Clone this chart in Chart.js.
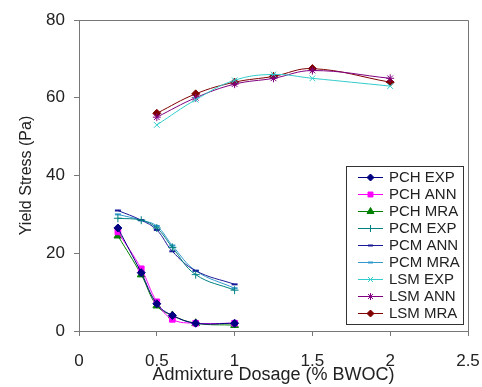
<!DOCTYPE html>
<html>
<head>
<meta charset="utf-8">
<script src="https://cdn.jsdelivr.net/npm/chart.js@4/dist/chart.umd.min.js"></script>
<style>
  html, body { margin: 0; padding: 0; background: #fff; }
  #wrap { width: 482px; height: 387px; }
</style>
</head>
<body>
<div id="wrap"><canvas id="chart" width="482" height="387"></canvas></div>
<script>
// Yield stress vs admixture dosage, three admixtures, experimental vs ANN vs MRA.
const pcDosage = [0.25, 0.4, 0.5, 0.6, 0.75, 1.0];
const lsmDosage = [0.5, 0.75, 1.0, 1.25, 1.5, 2.0];

const pchExp = [26.5, 15, 7, 4, 2, 2];
const pchAnn = [25.5, 16, 7.5, 3, 2, 2];
const pchMra = [24.5, 14.5, 6.5, 4, 2, 1.5];
const pcmExp = [29, 28.5, 26.5, 21.5, 14.5, 10.5];
const pcmAnn = [31, 28.5, 26, 20.5, 15.5, 12];
const pcmMra = [30, 28.5, 27, 22, 15.5, 11];
const lsmExp = [53, 59.5, 64.5, 66, 65, 63];
const lsmAnn = [55, 60, 63.5, 65, 67, 65];
const lsmMra = [56, 61, 64, 65.5, 67.5, 64];

const xTicks = [0, 0.5, 1, 1.5, 2, 2.5];
const yTicks = [0, 20, 40, 60, 80];

function pts(xs, ys) {
  return xs.map((x, i) => ({ x, y: ys[i] }));
}

function series(label, xs, ys, color, style, radius) {
  return {
    label,
    data: pts(xs, ys),
    borderColor: color,
    backgroundColor: color,
    pointStyle: style,
    pointRadius: radius,
    pointBorderWidth: style === 'line' ? 2 : 1,
    borderWidth: 1,
    tension: 0.4,
    fill: false,
  };
}

const datasets = [
  series('PCH EXP', pcDosage, pchExp, '#000080', 'rectRot', 4),
  series('PCH ANN', pcDosage, pchAnn, '#ff00ff', 'rect', 4),
  series('PCH MRA', pcDosage, pchMra, '#008000', 'triangle', 4.5),
  series('PCM EXP', pcDosage, pcmExp, '#008080', 'cross', 4),
  series('PCM ANN', pcDosage, pcmAnn, '#1a1a99', 'line', 3),
  series('PCM MRA', pcDosage, pcmMra, '#3399cc', 'line', 3),
  series('LSM EXP', lsmDosage, lsmExp, '#33cccc', 'crossRot', 4),
  series('LSM ANN', lsmDosage, lsmAnn, '#800080', 'star', 4),
  series('LSM MRA', lsmDosage, lsmMra, '#800000', 'rectRot', 4),
];

// Legend box inside the plot, drawn by hand (Excel-style)
const insideLegend = {
  id: 'insideLegend',
  afterDraw(chart) {
    const ctx = chart.ctx;
    const area = chart.chartArea;
    // frame around the plot area
    ctx.save();
    ctx.strokeStyle = '#777';
    ctx.lineWidth = 1;
    ctx.beginPath();
    ctx.moveTo(area.left, area.top + 0.5);
    ctx.lineTo(area.right + 0.5, area.top + 0.5);
    ctx.lineTo(area.right + 0.5, area.bottom);
    ctx.stroke();

    const bx = 346, by = 166, bw = 117, bh = 158;
    ctx.fillStyle = '#fff';
    ctx.fillRect(bx, by, bw, bh);
    ctx.strokeStyle = '#333';
    ctx.strokeRect(bx + 0.5, by + 0.5, bw, bh);

    ctx.font = '15px "Liberation Sans", Arial, sans-serif';
    ctx.textBaseline = 'middle';
    chart.data.datasets.forEach((ds, i) => {
      const y = by + 11 + i * 17;
      ctx.strokeStyle = ds.borderColor;
      ctx.lineWidth = 1;
      ctx.beginPath();
      ctx.moveTo(358, y + 0.5);
      ctx.lineTo(383, y + 0.5);
      ctx.stroke();
      ctx.fillStyle = ds.backgroundColor;
      ctx.lineWidth = ds.pointBorderWidth;
      Chart.helpers.drawPoint(ctx, {
        pointStyle: ds.pointStyle,
        radius: ds.pointRadius - 0.5,
        rotation: 0,
        borderWidth: ds.pointBorderWidth,
      }, 370.5, y + 0.5);
      ctx.fillStyle = '#222';
      ctx.fillText(ds.label, 389, y + 1);
    });
    ctx.restore();
  },
};

const tickFont = { family: '"Liberation Sans", Arial, sans-serif', size: 17 };
const xTitleFont = { family: '"Liberation Sans", Arial, sans-serif', size: 18 };
const yTitleFont = { family: '"Liberation Sans", Arial, sans-serif', size: 16 };

new Chart(document.getElementById('chart'), {
  type: 'line',
  data: { datasets },
  options: {
    responsive: false,
    animation: false,
    layout: { padding: { left: 17, right: 14, top: 20, bottom: 0 } },
    plugins: { legend: { display: false }, tooltip: { enabled: false } },
    scales: {
      x: {
        type: 'linear',
        min: 0,
        max: 2.5,
        afterBuildTicks: (s) => { s.ticks = xTicks.map((v) => ({ value: v })); },
        afterFit: (s) => {
          s.height = 56;
          s.paddingLeft = 0;
          s.paddingRight = 0;
        },
        ticks: {
          font: tickFont,
          color: '#222',
          padding: 15,
          maxRotation: 0,
          callback: (v) => String(v),
        },
        grid: { drawOnChartArea: false, drawTicks: true, tickLength: 5, color: '#777' },
        border: { display: true, color: '#777' },
        title: {
          display: true,
          text: 'Admixture Dosage (% BWOC)',
          font: xTitleFont,
          color: '#222',
          padding: { top: 0, bottom: 1 },
        },
      },
      y: {
        min: 0,
        max: 80,
        afterBuildTicks: (s) => { s.ticks = yTicks.map((v) => ({ value: v })); },
        afterFit: (s) => { s.width = 62; },
        ticks: { font: tickFont, color: '#222', padding: 9 },
        grid: { drawOnChartArea: false, drawTicks: true, tickLength: 5, color: '#777' },
        border: { display: true, color: '#777' },
        title: { display: true, text: 'Yield Stress (Pa)', font: yTitleFont, color: '#222', padding: 0 },
      },
    },
  },
  plugins: [insideLegend],
});
</script>
</body>
</html>
